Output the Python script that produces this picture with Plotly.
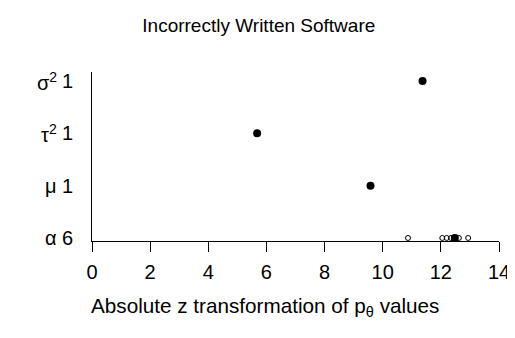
import plotly.graph_objects as go

# Data (rows bottom to top)
row_labels = ["α", "μ", "τ<sup>2</sup>", "σ<sup>2</sup>"]
row_counts = [6, 1, 1, 1]

# individual (open) values per parameter
alpha_vals = [10.87, 12.05, 12.2, 12.35, 12.62, 12.94]
mu_vals = [9.58]
tau2_vals = [5.68]
sigma2_vals = [11.37]
# summary (filled) values per row
summary_vals = [12.48, 9.58, 5.68, 11.37]

x_ticks = [0, 2, 4, 6, 8, 10, 12, 14]

fig = go.Figure()

open_x, open_y = [], []
for i, vals in enumerate([alpha_vals, mu_vals, tau2_vals, sigma2_vals]):
    open_x += vals
    open_y += [i + 1] * len(vals)

fig.add_trace(go.Scatter(
    x=open_x, y=open_y, mode="markers",
    marker=dict(symbol="circle-open", size=5, color="black", line=dict(width=1)),
    showlegend=False, hoverinfo="skip"))
fig.add_trace(go.Scatter(
    x=summary_vals, y=[1, 2, 3, 4], mode="markers",
    marker=dict(symbol="circle", size=8, color="black"),
    showlegend=False, hoverinfo="skip"))

font = "Liberation Sans, Arial, sans-serif"
annotations = []
for i, (lab, cnt) in enumerate(zip(row_labels, row_counts)):
    annotations.append(dict(x=0, xref="paper", y=i + 1, yref="y", text=lab,
                            showarrow=False, xanchor="right", xshift=-33,
                            font=dict(family=font, size=20, color="black")))
    annotations.append(dict(x=0, xref="paper", y=i + 1, yref="y", text=str(cnt),
                            showarrow=False, xanchor="center", xshift=-25,
                            font=dict(family=font, size=20, color="black")))
annotations.append(dict(x=0.425, xref="paper", y=0, yref="paper",
                        text="Absolute z transformation of p<sub>θ</sub> values",
                        showarrow=False, yshift=-66, xanchor="center", yanchor="middle",
                        font=dict(family=font, size=20.7, color="black")))

fig.update_layout(
    width=515, height=338,
    margin=dict(l=84, r=24, t=64, b=105),
    paper_bgcolor="white", plot_bgcolor="white",
    title=dict(text="Incorrectly Written Software", x=0.487, xanchor="center",
               xref="container", yref="container",
               y=0.95, yanchor="middle",
               font=dict(family=font, size=19, color="black")),
    font=dict(family=font, size=20, color="black"),
    xaxis=dict(range=[0, 14], tickvals=x_ticks, showgrid=False, zeroline=False,
               showline=True, linecolor="black", linewidth=1.2, automargin=False,
               ticks="outside", ticklen=10, tickcolor="black", tickwidth=1.2,
               ticklabelstandoff=3,
               tickfont=dict(family=font, size=20)),
    yaxis=dict(range=[0.942, 4.173], showticklabels=False, showgrid=False,
               zeroline=False, showline=True, linecolor="black", linewidth=1.2,
               ticks="", automargin=False),
    annotations=annotations,
)

fig.write_html("out.html")
